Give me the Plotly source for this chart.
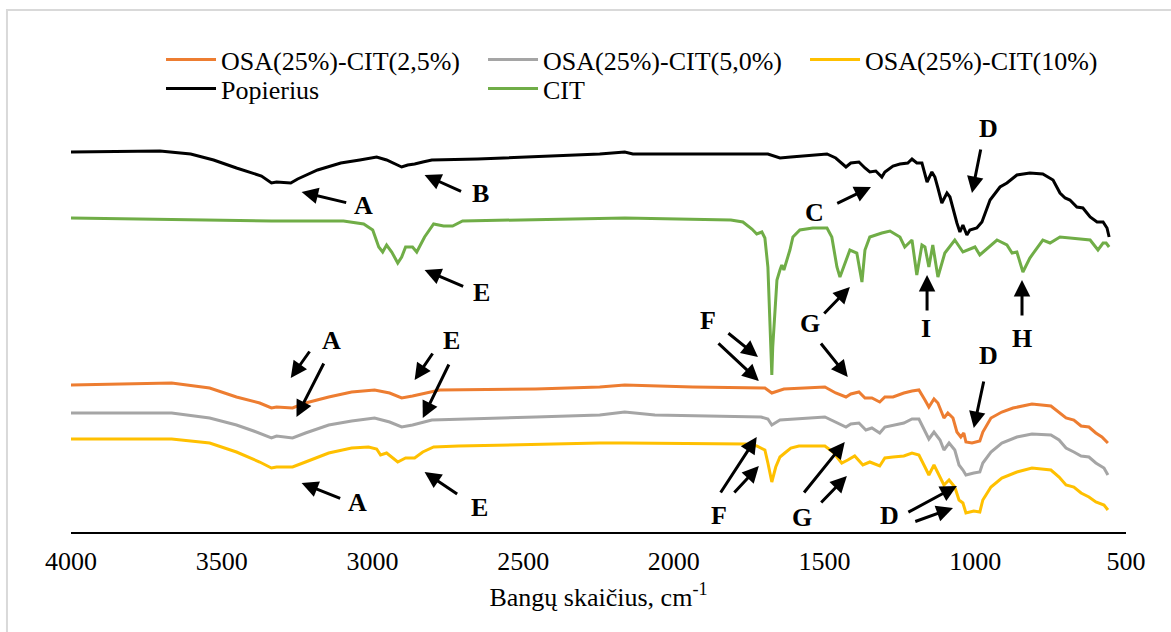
import plotly.graph_objects as go

FONT = "Liberation Serif"

# ---- data: wavenumber (cm-1) and relative transmittance (a.u., stacked offsets)
pop_wn = [4000, 3705, 3603, 3527, 3451, 3398, 3368, 3335, 3318, 3271, 3248, 3182, 3105, 3042, 2986, 2953, 2930,
          2903, 2883, 2860, 2833, 2803, 2651, 2312, 2246, 2163, 2136, 1688, 1648, 1612, 1492, 1463, 1429, 1413,
          1386, 1366, 1350, 1330, 1310, 1300, 1273, 1250, 1224, 1210, 1194, 1177, 1160, 1144, 1134, 1124, 1111,
          1094, 1084, 1061, 1051, 1041, 1028, 1018, 995, 978, 951, 918, 895, 862, 819, 776, 742, 719, 702, 686,
          663, 643, 619, 596, 576, 563, 556]
pop_t = [380, 381, 378, 372, 364, 359, 356, 349, 350, 349, 353, 362, 369, 372, 375, 372, 369,
         365, 367, 368, 370, 372, 373, 377, 378, 380, 378, 378, 374, 375, 378, 374, 365, 369,
         370, 364, 360, 361, 355, 360, 366, 368, 369, 373, 369, 369, 350, 360, 355, 344, 329,
         339, 335, 309, 300, 307, 297, 302, 304, 310, 332, 345, 349, 357, 359, 358, 352, 339, 334, 332,
         325, 324, 315, 310, 310, 304, 295]

cit_wn = [4000, 3540, 3335, 3096, 3029, 2999, 2979, 2966, 2953, 2936, 2916, 2903, 2890, 2867, 2853, 2827, 2797,
          2764, 2734, 2701, 2246, 2163, 1811, 1771, 1741, 1725, 1708, 1698, 1688, 1682, 1675, 1672, 1665, 1658,
          1648, 1642, 1635, 1625, 1615, 1605, 1582, 1539, 1492, 1476, 1459, 1449, 1433, 1416, 1393, 1376, 1366,
          1350, 1310, 1283, 1250, 1234, 1210, 1194, 1177, 1167, 1154, 1141, 1124, 1101, 1068, 1041, 1001, 985,
          928, 895, 878, 862, 842, 819, 776, 752, 719, 619, 593, 576, 566, 556]
cit_t = [314, 312, 311, 311, 308, 302, 285, 280, 287, 280, 269, 275, 285, 285, 280, 295, 308,
         306, 306, 311, 313, 314, 312, 310, 303, 298, 300, 294, 265, 219, 157, 185, 225, 252,
         262, 267, 262, 272, 282, 295, 302, 304, 304, 295, 265, 255, 269, 282, 279, 250, 282,
         295, 299, 301, 295, 285, 292, 257, 287, 285, 265, 287, 255, 279, 292, 280, 285, 277,
         292, 287, 279, 280, 260, 274, 292, 289, 295, 292, 282, 289, 289, 285]

o25_wn = [4000, 3666, 3540, 3451, 3374, 3335, 3318, 3265, 3222, 3145, 3069, 2993, 2943, 2903, 2867, 2827, 2777,
          2458, 2246, 2163, 1937, 1698, 1675, 1635, 1499, 1463, 1429, 1413, 1386, 1366, 1343, 1317, 1300, 1273,
          1237, 1210, 1187, 1167, 1154, 1137, 1124, 1104, 1091, 1074, 1061, 1048, 1038, 1031, 1011, 985, 975,
          948, 912, 875, 812, 749, 722, 699, 673, 649, 623, 600, 580, 560]
o25_t = [147, 149, 144, 135, 129, 124, 125, 124, 129, 135, 140, 142, 139, 134, 136, 139, 142,
         143, 145, 147, 145, 144, 139, 143, 145, 139, 135, 138, 140, 134, 134, 130, 135, 135,
         139, 141, 142, 132, 125, 133, 129, 114, 119, 114, 100, 95, 99, 90, 89, 91, 100,
         114, 120, 124, 128, 126, 120, 114, 112, 106, 105, 99, 95, 89]

o50_wn = [4000, 3666, 3540, 3451, 3394, 3335, 3318, 3265, 3222, 3145, 3069, 2993, 2943, 2903, 2867, 2803, 2458,
          2246, 2163, 2063, 1711, 1688, 1675, 1648, 1499, 1463, 1429, 1413, 1386, 1363, 1343, 1317, 1300, 1237,
          1210, 1187, 1167, 1154, 1137, 1117, 1104, 1087, 1068, 1054, 1041, 1031, 1005, 985, 975, 948, 912,
          862, 812, 749, 722, 699, 673, 649, 623, 600, 573, 560]
o50_t = [119, 119, 114, 107, 101, 94, 96, 94, 99, 107, 111, 114, 110, 105, 107, 112, 115,
         117, 120, 117, 115, 113, 107, 112, 115, 110, 105, 108, 109, 102, 104, 99, 105, 109,
         113, 113, 100, 93, 100, 92, 82, 89, 82, 67, 62, 57, 59, 60, 69, 80, 89,
         95, 98, 97, 92, 84, 80, 76, 75, 69, 64, 57]

o10_wn = [4000, 3666, 3540, 3451, 3374, 3335, 3318, 3265, 3222, 3145, 3069, 3013, 2986, 2973, 2953, 2916, 2890,
          2860, 2833, 2797, 2714, 2458, 2246, 2163, 1761, 1725, 1698, 1688, 1675, 1662, 1648, 1632, 1612, 1585,
          1499, 1472, 1443, 1423, 1400, 1373, 1350, 1317, 1300, 1273, 1237, 1210, 1187, 1167, 1154, 1137, 1117,
          1104, 1087, 1068, 1054, 1041, 1031, 1005, 985, 975, 948, 912, 862, 812, 749, 722, 699, 673, 649,
          623, 600, 573, 560]
o10_t = [93, 93, 89, 80, 70, 64, 65, 65, 70, 79, 84, 85, 83, 77, 79, 70, 74,
         74, 80, 85, 86, 88, 89, 89, 88, 86, 82, 69, 50, 65, 75, 79, 84, 86,
         86, 80, 69, 72, 76, 67, 70, 66, 74, 75, 76, 79, 77, 65, 57, 67, 55,
         47, 52, 45, 32, 29, 19, 21, 20, 32, 45, 54, 60, 64, 62, 55, 47, 45, 39,
         35, 30, 27, 22]

series = [
    ("OSA(25%)-CIT(2,5%)", o25_wn, o25_t, "#ED7D31", "legend"),
    ("OSA(25%)-CIT(5,0%)", o50_wn, o50_t, "#A5A5A5", "legend"),
    ("OSA(25%)-CIT(10%)", o10_wn, o10_t, "#FFC000", "legend"),
    ("Popierius", pop_wn, pop_t, "#000000", "legend2"),
    ("CIT", cit_wn, cit_t, "#70AD47", "legend2"),
]

# ---- labels: (letter, wn, t)
labels = [
    ("A", 3030, 327), ("B", 2641, 339), ("E", 2638, 240), ("C", 1532, 320), ("D", 955, 404),
    ("G", 1549, 209), ("F", 1887, 212), ("I", 1164, 204), ("H", 845, 194), ("D", 955, 177),
    ("A", 3135, 192), ("E", 2737, 192), ("A", 3049, 30), ("E", 2644, 25), ("F", 1851, 17),
    ("G", 1575, 15), ("D", 1283, 17),
]
# ---- arrows: (tail wn, tail t, head wn, head t)
arrows = [
    (3082, 329, 3235, 340), (2701, 340, 2827, 357), (2694, 245, 2827, 262), (1463, 328, 1346, 345),
    (981, 384, 1011, 339), (1506, 217, 1416, 245), (1516, 190, 1423, 155), (1824, 200, 1721, 175),
    (1857, 190, 1718, 151), (1160, 220, 1160, 257), (845, 215, 845, 252), (971, 152, 1005, 104),
    (3205, 182, 3271, 154), (3159, 170, 3252, 115), (2797, 180, 2860, 152), (2744, 169, 2833, 114),
    (3102, 33, 3235, 49), (2714, 37, 2827, 60), (1848, 38, 1725, 95), (1804, 38, 1718, 66),
    (1572, 38, 1433, 90), (1516, 28, 1426, 56), (1227, 19, 1061, 46), (1204, 10, 1074, 24),
]

fig = go.Figure()
for name, wn, t, col, lg in series:
    fig.add_trace(go.Scatter(x=wn, y=t, mode="lines", name=name, legend=lg,
                             line=dict(color=col, width=3)))

annotations = []
for tx, ty, hx, hy in arrows:
    annotations.append(dict(x=hx, y=hy, ax=tx, ay=ty, xref="x", yref="y", axref="x", ayref="y",
                            text="", showarrow=True, arrowhead=2, arrowsize=1.1, arrowwidth=3,
                            arrowcolor="black", standoff=0, startstandoff=0))
for letter, wx, wy in labels:
    annotations.append(dict(x=wx, y=wy, xref="x", yref="y", text="<b>%s</b>" % letter,
                            showarrow=False, font=dict(family=FONT, size=26, color="black")))

legend_common = dict(orientation="h", xref="container", yref="container", xanchor="left",
                     yanchor="top", entrywidth=257, entrywidthmode="pixels", itemwidth=50,
                     font=dict(family=FONT, size=26, color="black"), bgcolor="rgba(0,0,0,0)",
                     traceorder="normal")

fig.update_layout(
    width=1171, height=632,
    margin=dict(l=71, r=45, t=112, b=100, autoexpand=False),
    paper_bgcolor="white", plot_bgcolor="white",
    font=dict(family=FONT, size=26, color="black"),
    showlegend=True,
    legend=dict(legend_common, x=0.1375, y=0.943),
    legend2=dict(legend_common, x=0.1375, y=0.897),
    xaxis=dict(range=[4000, 500], dtick=500, tick0=500, showgrid=False, zeroline=False,
               showline=True, linecolor="black", linewidth=2, ticks="",
               ticklabelstandoff=5,
               tickfont=dict(family=FONT, size=26, color="black"),
               title=dict(text="Bangų skaičius, cm<sup>-1</sup>", standoff=13,
                          font=dict(family=FONT, size=26, color="black"))),
    yaxis=dict(range=[0, 420], visible=False, showgrid=False, zeroline=False, fixedrange=True),
    annotations=annotations,
    shapes=[dict(type="rect", xref="paper", yref="paper", x0=-0.0607, x1=1.05, y0=-0.3, y1=1.243,
                 line=dict(color="#D9D9D9", width=2), fillcolor="rgba(0,0,0,0)", layer="below")],
)

fig.write_html("out.html")
